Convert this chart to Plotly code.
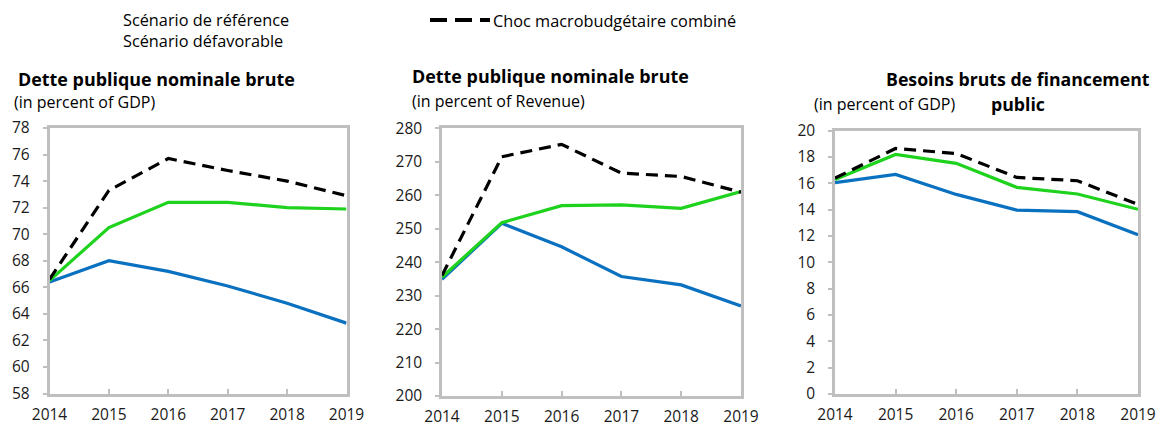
import plotly.graph_objects as go

W, H = 1158, 427

years = [2014, 2015, 2016, 2017, 2018, 2019]

# Dette publique nominale brute (% du PIB)
debt_gdp_ref = [66.4, 68.0, 67.2, 66.1, 64.8, 63.3]
debt_gdp_adv = [66.5, 70.5, 72.4, 72.4, 72.0, 71.9]
debt_gdp_shock = [66.6, 73.3, 75.7, 74.8, 74.0, 72.9]

# Dette publique nominale brute (% des recettes)
debt_rev_ref = [234.9, 251.6, 244.6, 235.7, 233.2, 226.9]
debt_rev_adv = [235.5, 251.8, 256.9, 257.1, 256.1, 261.1]
debt_rev_shock = [236.0, 271.5, 275.2, 266.6, 265.6, 260.9]

# Besoins bruts de financement public (% du PIB)
gfn_ref = [16.05, 16.68, 15.16, 13.97, 13.85, 12.1]
gfn_adv = [16.3, 18.2, 17.52, 15.7, 15.19, 14.03]
gfn_shock = [16.4, 18.65, 18.27, 16.45, 16.2, 14.4]

y_ticks_1 = [58, 60, 62, 64, 66, 68, 70, 72, 74, 76, 78]
y_ticks_2 = [200, 210, 220, 230, 240, 250, 260, 270, 280]
y_ticks_3 = [0, 2, 4, 6, 8, 10, 12, 14, 16, 18, 20]

series_names = ["Scénario de référence", "Scénario défavorable", "Choc macrobudgétaire combiné"]

BLUE = "#0A70C0"
GREEN = "#1ED21E"
BLACK = "#000000"
FRAME = "#BFBFBF"
FONT = "Open Sans"

panels = [
    dict(ref=debt_gdp_ref, adv=debt_gdp_adv, shock=debt_gdp_shock, ticks=y_ticks_1,
         x0=49.5, x1=346.5, y0=128.0, y1=393.5),
    dict(ref=debt_rev_ref, adv=debt_rev_adv, shock=debt_rev_shock, ticks=y_ticks_2,
         x0=442.0, x1=741.0, y0=128.3, y1=396.0),
    dict(ref=gfn_ref, adv=gfn_adv, shock=gfn_shock, ticks=y_ticks_3,
         x0=835.0, x1=1138.0, y0=130.7, y1=394.0),
]

fig = go.Figure()

for i, p in enumerate(panels, start=1):
    xa = "x" if i == 1 else f"x{i}"
    ya = "y" if i == 1 else f"y{i}"
    for vals, color, dash, name in [
        (p["ref"], BLUE, "solid", series_names[0]),
        (p["adv"], GREEN, "solid", series_names[1]),
        (p["shock"], BLACK, "12px,7px", series_names[2]),
    ]:
        fig.add_trace(go.Scatter(
            x=years, y=vals, mode="lines", name=name, showlegend=False,
            line=dict(color=color, width=3.2, dash=dash),
            xaxis=xa, yaxis=ya, cliponaxis=False,
        ))
    xkey = "xaxis" if i == 1 else f"xaxis{i}"
    ykey = "yaxis" if i == 1 else f"yaxis{i}"
    fig.layout[xkey] = dict(
        domain=[p["x0"] / W, p["x1"] / W], anchor=ya, automargin=False,
        range=[2014, 2019], tickvals=years, ticktext=[str(y) for y in years],
        showgrid=False, zeroline=False, showline=True, mirror=True,
        linecolor=FRAME, linewidth=2.5, ticks="inside", ticklen=5,
        tickcolor=FRAME, tickwidth=2, ticklabelstandoff=5,
        tickfont=dict(family=FONT, size=15.5, color="#1A1A1A"),
    )
    fig.layout[ykey] = dict(
        domain=[(H - p["y1"]) / H, (H - p["y0"]) / H], anchor=xa, automargin=False,
        range=[p["ticks"][0], p["ticks"][-1]], tickvals=p["ticks"],
        showgrid=False, zeroline=False, showline=True, mirror=True,
        linecolor=FRAME, linewidth=2.5, ticks="outside", ticklen=4,
        tickcolor=FRAME, tickwidth=2, ticklabelstandoff=10,
        tickfont=dict(family=FONT, size=15.5, color="#1A1A1A"),
    )

annotations = []


def text(x, y, s, size=14, bold=False, anchor="left"):
    annotations.append(dict(
        x=x / W, y=1 - y / H, xref="paper", yref="paper", text=f"<b>{s}</b>" if bold else s,
        showarrow=False, xanchor=anchor, yanchor="middle", borderpad=0,
        font=dict(family=FONT, size=size, color="#000000"),
    ))


# legend
text(122, 20, series_names[0], size=16.3)
text(122, 41, series_names[1], size=16.3)
text(492, 21, series_names[2], size=16.3)

# panel titles
text(17, 79, "Dette publique nominale brute", size=17.9, bold=True)
text(13, 102, "(in percent of GDP)", size=16)
text(411, 76, "Dette publique nominale brute", size=17.9, bold=True)
text(411, 101, "(in percent of Revenue)", size=16)
text(1151, 79, "Besoins bruts de financement", size=17.7, bold=True, anchor="right")
text(1018, 104, "public", size=17.7, bold=True, anchor="center")
text(813, 104, "(in percent of GDP)", size=16)

# dashed legend sample
shapes = [dict(
    type="line", xref="paper", yref="paper",
    x0=430 / W, x1=490 / W, y0=1 - 20 / H, y1=1 - 20 / H,
    line=dict(color=BLACK, width=4, dash="17px,8px"),
)]

fig.update_layout(
    width=W, height=H, margin=dict(l=0, r=0, t=0, b=0),
    paper_bgcolor="white", plot_bgcolor="white",
    annotations=annotations, shapes=shapes, showlegend=False,
)

fig.write_html("out.html")
